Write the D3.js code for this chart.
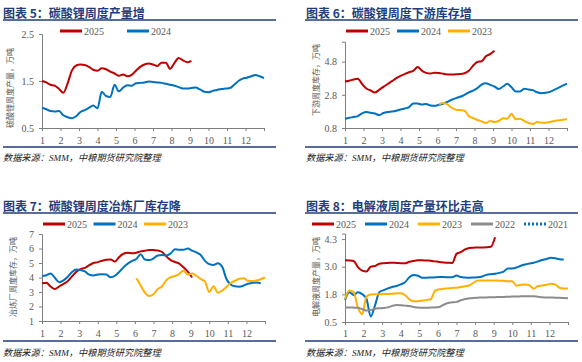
<html>
<head>
<meta charset="utf-8">
<style>
body {margin:0; background:#fff}
text {font-family:"Liberation Serif","Noto Sans CJK SC",serif}
</style>
</head>
<body>
<script src="https://d3js.org/d3.v7.min.js"></script>
<script>
// x: week index, shown against month 1..13
var monthTicks = [1,2,3,4,5,6,7,8,9,10,11,12];
var weeksPerYear = 52;
var start23 = 22;   // 2023 series begin at week 22

// 图表5 碳酸锂周度产量
var prod25 = [1.50,1.47,1.42,1.40,1.33,1.25,1.45,1.72,1.83,1.85,1.84,1.80,1.74,1.72,1.77,1.75,1.70,1.66,1.61,1.64,
              1.60,1.63,1.72,1.80,1.85,1.87,1.85,1.82,1.89,1.89,1.76,1.88,1.99,1.94,1.90,1.93];
var prod24 = [0.93,0.90,0.86,0.85,0.86,0.77,0.73,0.71,0.75,0.84,0.88,0.93,0.98,0.92,1.27,1.18,1.16,1.42,1.28,1.36,
              1.41,1.40,1.45,1.46,1.47,1.49,1.48,1.47,1.46,1.44,1.42,1.40,1.37,1.34,1.34,1.35,1.36,1.32,1.27,1.26,
              1.29,1.31,1.33,1.34,1.35,1.42,1.50,1.55,1.57,1.60,1.63,1.60,1.56];

// 图表6 下游周度库存
var dsInv25 = [3.60,3.65,3.72,3.77,3.45,3.18,3.06,2.94,3.10,3.28,3.45,3.62,3.80,3.94,4.05,4.16,4.24,4.48,4.26,4.12,
               4.08,4.13,4.12,4.07,4.03,4.02,4.04,4.05,4.10,4.25,4.55,4.78,4.82,5.12,5.25,5.45];
var dsInv24 = [1.36,1.42,1.46,1.52,1.68,1.76,1.72,1.67,1.58,1.70,1.76,1.79,1.84,1.92,1.98,2.06,2.28,2.28,2.21,2.24,
               2.16,2.14,2.20,2.26,2.38,2.50,2.60,2.68,2.80,2.95,3.05,3.20,3.42,3.50,3.40,3.30,3.15,3.30,3.46,3.25,
               3.00,3.00,3.17,3.12,3.08,2.95,2.90,2.92,2.98,3.10,3.22,3.35,3.48];
var dsInv23 = [2.22,2.30,2.22,2.02,1.90,1.88,1.84,1.52,1.40,1.28,1.20,1.10,1.22,1.16,1.22,1.38,1.36,1.66,1.32,1.36,
               1.22,1.10,1.04,1.16,1.12,1.12,1.16,1.22,1.26,1.30,1.32];

// 图表7 冶炼厂周度库存
var smInv25 = [3.60,3.64,3.38,3.20,3.38,3.55,3.75,4.08,4.40,4.58,4.66,4.85,5.00,5.06,5.16,5.22,5.25,5.10,5.42,5.64,
               5.70,5.67,5.71,5.80,5.85,5.90,5.89,5.87,5.76,5.46,5.20,5.07,4.96,4.70,4.40,4.00];
var smInv24 = [4.10,4.16,4.28,3.98,3.68,3.80,4.05,4.38,4.56,4.52,4.42,4.20,4.14,4.20,4.22,4.20,4.02,4.12,4.38,4.70,
               4.96,5.14,5.28,5.60,5.24,5.20,5.32,5.52,5.55,5.52,5.66,5.95,5.92,5.92,6.00,5.85,5.74,5.55,5.15,4.92,
               4.86,4.98,4.75,3.90,3.52,3.40,3.37,3.44,3.57,3.63,3.66,3.60];
var smInv23 = [3.95,3.45,2.95,2.72,2.85,3.20,3.40,3.82,4.02,4.10,4.25,4.48,4.20,4.28,4.12,3.90,3.72,3.00,3.40,2.95,
               3.10,3.35,3.62,3.78,3.92,3.95,3.78,3.76,3.80,3.88,4.00];

// 图表8 电解液周度产量
var ely25 = [3.29,3.28,3.26,2.98,2.82,2.78,3.00,3.03,3.13,3.16,3.17,3.18,3.17,3.16,3.15,3.22,3.26,3.29,3.29,3.28,
             3.27,3.24,3.21,3.19,3.18,3.17,3.58,3.66,3.78,3.85,3.86,3.87,3.87,3.88,3.90,4.33];
var ely24 = [1.50,1.85,1.72,1.84,1.76,1.55,0.75,1.25,1.85,1.94,2.02,2.08,2.13,2.20,2.30,2.52,2.62,2.59,2.50,2.50,
             2.51,2.52,2.53,2.53,2.52,2.52,2.60,2.53,2.51,2.50,2.51,2.52,2.56,2.63,2.66,2.68,2.72,2.78,2.92,2.92,
             2.96,3.04,3.10,3.14,3.18,3.24,3.30,3.35,3.40,3.38,3.34,3.32];
var ely23 = [1.54,1.92,1.85,1.16,0.85,1.64,1.74,1.75,1.75,1.76,1.77,1.78,1.79,1.80,1.72,1.52,1.44,1.44,1.46,1.50,
             1.53,1.92,1.98,2.00,2.02,2.04,2.05,2.08,2.12,2.16,2.28,2.38,2.38,2.38,2.38,2.38,2.37,2.36,2.34,2.34,
             2.14,2.18,2.19,2.16,2.00,2.13,2.15,2.18,2.23,2.20,2.05,2.01,2.01];
var ely22 = [1.16,1.16,1.15,1.14,1.08,1.02,1.04,1.10,1.12,1.13,1.16,1.23,1.27,1.26,1.24,1.22,1.18,1.15,1.14,1.14,
             1.15,1.16,1.18,1.28,1.36,1.39,1.41,1.48,1.54,1.57,1.59,1.60,1.61,1.61,1.62,1.62,1.63,1.63,1.64,1.65,
             1.65,1.66,1.66,1.66,1.66,1.64,1.62,1.61,1.61,1.60,1.60,1.58,1.57];
var ely21 = [];

var RED = "#c00000", BLUE = "#0070c0", ORANGE = "#ffb000", GRAY = "#8c8c8c";
var NAVY = "#1f3d7a", AXIS = "#7f7f7f", LABEL = "#595959";

var svg = d3.select("body").append("svg").attr("width",582).attr("height",362);

var panels = [
  {title:"图表 5：碳酸锂周度产量增", ylab:"碳酸锂周度产量，万吨", tx:3, ty:17.5, rule:[3,276], ruleTop:20, ruleBot:147,
   legY:31, legX:60, legGap:67, px:[42,264], py:[128,34], dom:[0.5,2.5], ticks:[0.5,1.5,2.5], fmt:".1f",
   xlabY:144, srcY:161, ylabX:10, ylabY:88,
   series:[{name:"2025",color:RED,data:prod25,start:0},{name:"2024",color:BLUE,data:prod24,start:0}]},
  {title:"图表 6：碳酸锂周度下游库存增", ylab:"下游周度库存，万吨", tx:306, ty:17.5, rule:[305,578], ruleTop:20, ruleBot:147,
   legY:31, legX:346, legGap:51, px:[345,567], py:[128,41.7], dom:[0.8,6.0], ticks:[0.8,2.8,4.8], fmt:".1f",
   xlabY:144, srcY:161, ylabX:316, ylabY:80,
   series:[{name:"2025",color:RED,data:dsInv25,start:0},{name:"2024",color:BLUE,data:dsInv24,start:0},
           {name:"2023",color:ORANGE,data:dsInv23,start:start23}]},
  {title:"图表 7：碳酸锂周度冶炼厂库存降", ylab:"冶炼厂周度库存，万吨", tx:3, ty:210.5, rule:[3,276], ruleTop:213, ruleBot:341,
   legY:224, legX:43, legGap:50.5, px:[42,265], py:[321,234], dom:[1,7], ticks:[1,2,3,4,5,6,7], fmt:"d",
   xlabY:337, srcY:356, ylabX:13, ylabY:277,
   series:[{name:"2025",color:RED,data:smInv25,start:0},{name:"2024",color:BLUE,data:smInv24,start:0},
           {name:"2023",color:ORANGE,data:smInv23,start:start23}]},
  {title:"图表 8：电解液周度产量环比走高", ylab:"电解液周度产量，万吨", tx:306, ty:210.5, rule:[305,578], ruleTop:213, ruleBot:341,
   legY:224, legX:312, legGap:53, px:[345,568], py:[322,233.5], dom:[0.5,4.5], ticks:[0.5,1.75,3.0,4.25], fmt:".1f",
   xlabY:337, srcY:356, ylabX:316, ylabY:277,
   series:[{name:"2025",color:RED,data:ely25,start:0},{name:"2024",color:BLUE,data:ely24,start:0},
           {name:"2023",color:ORANGE,data:ely23,start:0},{name:"2022",color:GRAY,data:ely22,start:0},
           {name:"2021",color:BLUE,data:ely21,start:0,dash:"2,2"}]}
];

panels.forEach(function(p){
  var g = svg.append("g");

  g.append("text").attr("x",p.tx).attr("y",p.ty)
    .attr("fill",NAVY).attr("font-size","12px").attr("font-weight","bold")
    .style("font-family","'Noto Sans CJK SC',sans-serif").text(p.title);
  g.append("line").attr("x1",p.rule[0]).attr("x2",p.rule[1]).attr("y1",p.ruleTop).attr("y2",p.ruleTop)
    .attr("stroke",NAVY).attr("stroke-width",1.5);
  g.append("line").attr("x1",p.rule[0]).attr("x2",p.rule[1]).attr("y1",p.ruleBot).attr("y2",p.ruleBot)
    .attr("stroke",NAVY).attr("stroke-width",1.5);
  g.append("text").attr("x",p.tx).attr("y",p.srcY)
    .attr("fill","#222").attr("font-size","9.2px").attr("font-style","italic")
    .text("数据来源：SMM，中粮期货研究院整理");

  var x = d3.scaleLinear().domain([1,13]).range(p.px);
  var y = d3.scaleLinear().domain(p.dom).range(p.py);

  // legend
  p.series.forEach(function(s,i){
    var lx = p.legX + i*p.legGap;
    g.append("line").attr("x1",lx).attr("x2",lx+22).attr("y1",p.legY).attr("y2",p.legY)
      .attr("stroke",s.color).attr("stroke-width",3).attr("stroke-dasharray",s.dash||null);
    g.append("text").attr("x",lx+24).attr("y",p.legY+3.5).attr("fill",LABEL)
      .attr("font-size","10px").text(s.name);
  });

  // axes
  var ya = g.append("g").attr("transform","translate("+p.px[0]+",0)")
    .call(d3.axisLeft(y).tickValues(p.ticks).tickFormat(d3.format(p.fmt)).tickSize(3).tickPadding(5));
  var xa = g.append("g").attr("transform","translate(0,"+p.py[0]+")")
    .call(d3.axisBottom(x).tickValues(d3.range(1,14)).tickFormat(function(d){ return d < 13 ? d : ""; })
      .tickSize(3).tickPadding(6));
  [ya,xa].forEach(function(a){
    a.select(".domain").attr("stroke",AXIS);
    a.selectAll(".tick line").attr("stroke",AXIS);
    a.selectAll("text").attr("fill",LABEL).attr("font-size","10px")
      .style("font-family","'Liberation Serif',serif");
  });
  xa.selectAll("text").attr("dy",null).attr("y",p.xlabY - p.py[0]);

  g.append("text").attr("transform","translate("+(p.ylabX+3)+","+p.ylabY+") rotate(-90)")
    .attr("text-anchor","middle").attr("fill",LABEL).attr("font-size","8px")
    .style("font-family","'Noto Sans CJK SC',sans-serif").text(p.ylab);

  var line = d3.line()
    .x(function(d,i){ return x(1 + (this_start + i)*12/weeksPerYear); })
    .y(function(d){ return y(d); })
    .curve(d3.curveMonotoneX);
  var this_start = 0;
  p.series.forEach(function(s){
    if (!s.data.length) return;
    this_start = s.start;
    g.append("path").attr("d",line(s.data)).attr("fill","none")
      .attr("stroke",s.color).attr("stroke-width",2).attr("stroke-linejoin","round");
  });
});
</script>
</body>
</html>
